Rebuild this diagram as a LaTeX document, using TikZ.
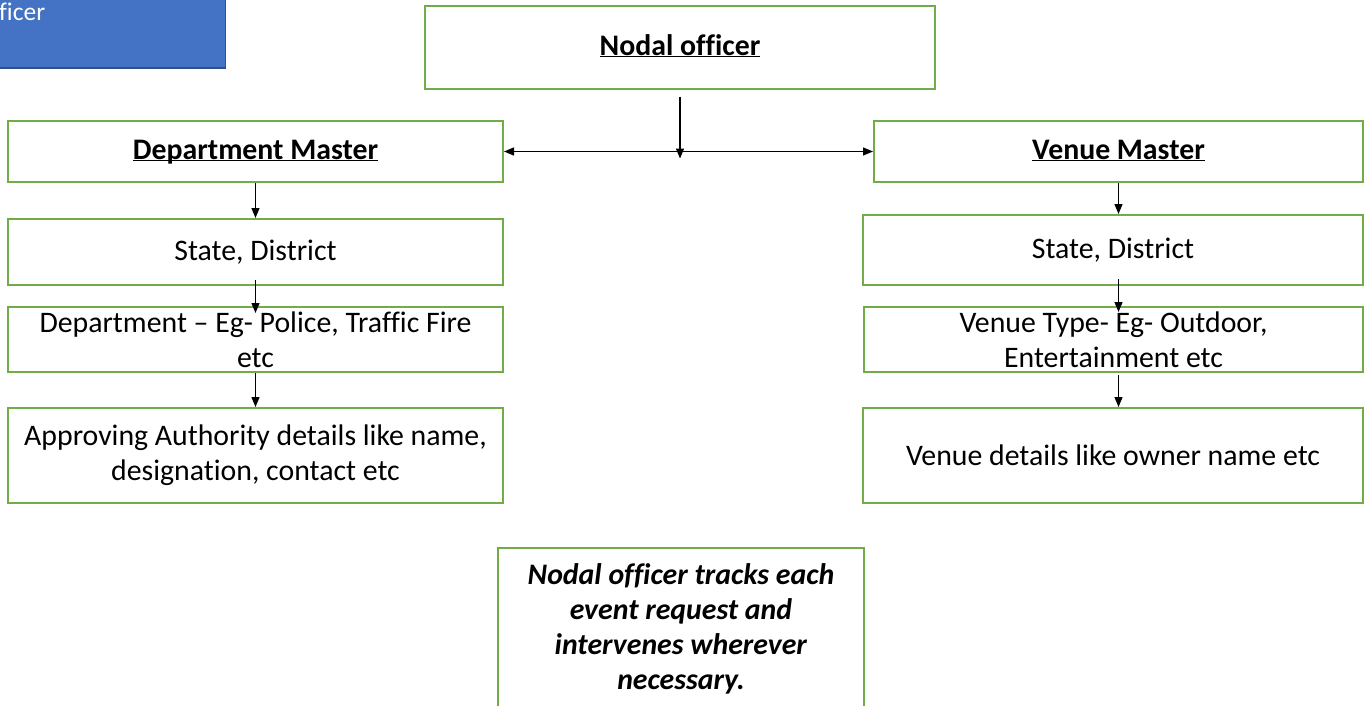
\documentclass[tikz,border=0pt]{standalone}
\usepackage{fontspec}
\setmainfont{Carlito}[Ligatures=CommonOff]
\usetikzlibrary{arrows.meta}
\definecolor{grn}{HTML}{70AD47}
\definecolor{blu}{HTML}{4472C4}
\definecolor{bluedge}{HTML}{2F528F}
\newcommand\myul[1]{\underline{\smash{#1}}\vphantom{S,}}
\begin{document}
\begin{tikzpicture}[x=1pt,y=-1pt,
  box/.style={draw=grn,line width=2pt,fill=white,anchor=north west,inner sep=0pt,
    font=\fontsize{29.8}{35}\selectfont,align=center},
  arr/.style={line width=1.3pt,-{Triangle[length=10pt,width=8pt]}},
  darr/.style={line width=1.3pt,{Triangle[length=10pt,width=8pt]}-{Triangle[length=10pt,width=8pt]}}]
\useasboundingbox (0,0) rectangle (1367,706);
% clipped blue box top-left
\node[draw=bluedge,fill=blu,line width=1.5pt,anchor=south east,minimum width=330pt,minimum height=100pt] (blue) at (226,69) {};
\node[anchor=base west,inner sep=0pt,text=white,font=\fontsize{25.5}{30}\selectfont] (bluetxt) at (-1,21) {ficer};
% top
\node[box,minimum width=510pt,minimum height=83pt] (nodal) at (424,5) {\textbf{\myul{Nodal officer}}};
\node[box,minimum width=495pt,minimum height=61pt] (dept) at (7,120) {\textbf{\myul{Department Master}}};
\node[box,minimum width=489pt,minimum height=61pt] (venue) at (873,120) {\textbf{\myul{Venue Master}}};
% left column
\node[box,minimum width=495pt,minimum height=66pt] (sd1) at (7,218) {State, District};
\node[box,minimum width=495pt,minimum height=65pt] (dt) at (7,306) {Department -- Eg- Police, Traffic Fire\\etc};
\node[box,minimum width=495pt,minimum height=95pt] (appr) at (7,407) {Approving Authority details like name,\\designation, contact etc};
% right column
\node[box,minimum width=500pt,minimum height=70pt] (sd2) at (862,214) {State, District};
\node[box,minimum width=499pt,minimum height=65pt] (vt) at (863,306) {Venue Type- Eg- Outdoor,\\Entertainment etc};
\node[box,minimum width=500pt,minimum height=95pt] (vd) at (862,407) {Venue details like owner name etc};
% bottom note
\node[box,minimum width=366pt,minimum height=161pt] (note) at (497,547) {\textbf{\textit{Nodal officer tracks each}}\\\textbf{\textit{event request and}}\\\textbf{\textit{intervenes wherever}}\\\textbf{\textit{necessary.}}};
% connectors
\coordinate (hub) at ([yshift=-7pt]nodal.south |- dept.east);
\draw[arr] ([yshift=-7pt]nodal.south) -- (hub);
\draw[darr] (dept.east) -- (venue.west);
\draw[arr] (dept.south) -- (sd1.north);
\draw[arr] ([yshift=6pt]sd1.south) -- ([yshift=-7pt]dt.north);
\draw[arr] (dt.south) -- (appr.north);
\draw[arr] (venue.south) -- (venue.south |- sd2.north);
\draw[arr] ([yshift=7pt]venue.south |- sd2.south) -- ([yshift=-6pt]venue.south |- vt.north);
\draw[arr] ([yshift=-2pt]venue.south |- vt.south) -- (venue.south |- vd.north);
\end{tikzpicture}
\end{document}
